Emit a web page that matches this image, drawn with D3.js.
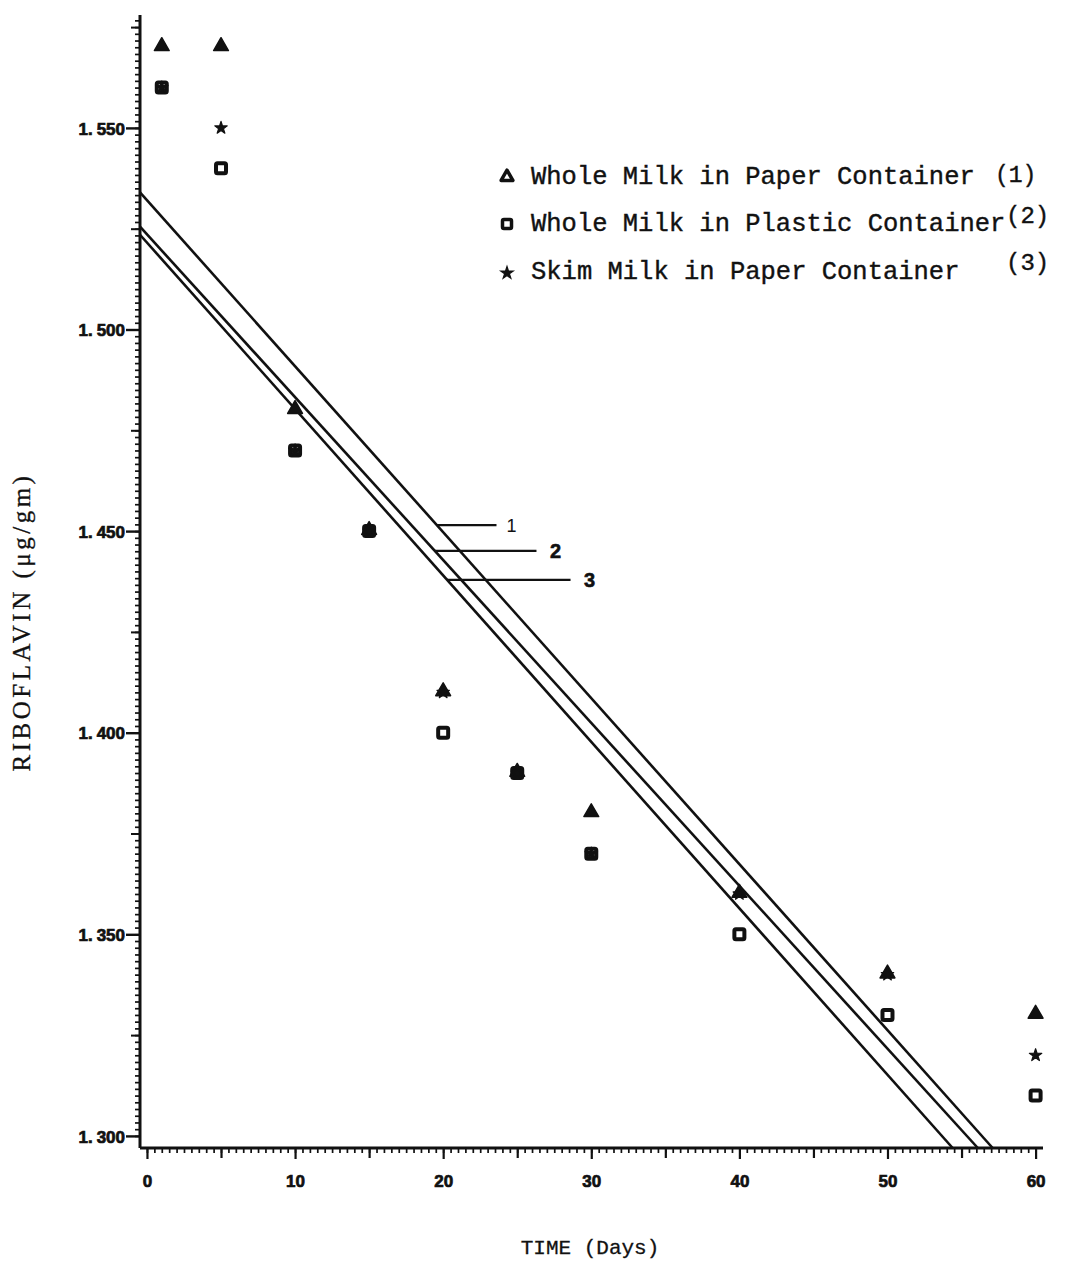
<!DOCTYPE html>
<html>
<head>
<meta charset="utf-8">
<script src="https://cdn.jsdelivr.net/npm/d3@7"></script>
<style>
  html, body { margin: 0; padding: 0; background: #ffffff; }
  svg { display: block; }
</style>
</head>
<body>
<svg id="chart" width="1078" height="1281"></svg>
<script>
// Storage days for every measurement
const days = [1, 5, 10, 15, 20, 25, 30, 40, 50, 60];

// Riboflavin (µg/gm) per series
const wholePaper   = [1.570, 1.570, 1.480, 1.450, 1.410, 1.390, 1.380, 1.360, 1.340, 1.330];
const wholePlastic = [1.560, 1.540, 1.470, 1.450, 1.400, 1.390, 1.370, 1.350, 1.330, 1.310];
const skimPaper    = [1.560, 1.550, 1.470, 1.450, 1.410, 1.390, 1.370, 1.360, 1.340, 1.320];

// Fitted regression lines (1, 2, 3): value where each meets the y axis,
// and the day where each reaches the bottom of the plot
const fitNames       = ["1", "2", "3"];
const fitStartValues = [1.534, 1.5255, 1.5235];
const fitEndDays     = [57.1, 56.1, 54.4];

// Call-out leaders for the fitted lines: level and right-hand end day
const leaderValues  = [1.4515, 1.4451, 1.4379];
const leaderEndDays = [23.6, 26.3, 28.6];

// Axis tick labels
const xTickLabels = [0, 10, 20, 30, 40, 50, 60];
const yTickLabels = [1.300, 1.350, 1.400, 1.450, 1.500, 1.550];

// Legend entries
const legendNames = ["Whole Milk in Paper Container", "Whole Milk in Plastic Container", "Skim Milk in Paper Container"];
const legendTags  = ["(1)", "(2)", "(3)"];

const svg = d3.select("#chart");
const ink = "#111";

const xDomain = [-0.47, 60.5];
const yDomain = [1.297, 1.578];
const x = d3.scaleLinear().domain(xDomain).range([140, 1043]);
const y = d3.scaleLinear().domain(yDomain).range([1148, 15]);

// ---------- axes ----------
const tickFont = "'Liberation Sans', Arial, sans-serif";

// y axis: fine ticks, half-interval ticks and labelled ticks
const yMinor = d3.range(0, 170).map(i => 1.300 + i * 0.05 / 30).filter(v => v <= yDomain[1]);
const yMid = d3.range(1.325, 1.576, 0.05);
svg.append("g").attr("transform", `translate(${x(xDomain[0])},0)`)
  .call(d3.axisLeft(y).tickValues(yMinor).tickSize(5).tickFormat(""))
  .call(g => g.select(".domain").remove())
  .call(g => g.selectAll("line").attr("stroke", ink).attr("stroke-width", 1.7));
svg.append("g").attr("transform", `translate(${x(xDomain[0])},0)`)
  .call(d3.axisLeft(y).tickValues(yMid).tickSize(9).tickFormat(""))
  .call(g => g.select(".domain").remove())
  .call(g => g.selectAll("line").attr("stroke", ink).attr("stroke-width", 2));
const yLab = svg.append("g").attr("transform", `translate(${x(xDomain[0])},0)`)
  .call(d3.axisLeft(y).tickValues(yTickLabels).tickSize(14).tickPadding(2).tickFormat(""))
  .call(g => g.select(".domain").remove())
  .call(g => g.selectAll("line").attr("stroke", ink).attr("stroke-width", 2.4));
// labelled values drawn as "1. 550": integer part, point, then a small gap
yLab.selectAll(".tick").append("text")
  .attr("x", -15).attr("dy", "0.36em")
  .attr("text-anchor", "end")
  .attr("fill", ink).attr("stroke", ink).attr("stroke-width", 0.7)
  .style("font-family", tickFont).style("font-weight", "bold").style("font-size", "17px")
  .each(function(d) {
    const s = d3.format(".3f")(d);
    const t = d3.select(this);
    t.append("tspan").text(s.slice(0, 2));
    t.append("tspan").attr("dx", 4).text(s.slice(2));
  });

// x axis: half-day ticks, five-day ticks and labelled ticks
const xMinor = d3.range(0, 121).map(i => i * 0.5);
const xFive = d3.range(5, 60, 10);
svg.append("g").attr("transform", `translate(0,${y(yDomain[0])})`)
  .call(d3.axisBottom(x).tickValues(xMinor).tickSize(5).tickFormat(""))
  .call(g => g.select(".domain").remove())
  .call(g => g.selectAll("line").attr("stroke", ink).attr("stroke-width", 1.7));
svg.append("g").attr("transform", `translate(0,${y(yDomain[0])})`)
  .call(d3.axisBottom(x).tickValues(xFive).tickSize(10).tickFormat(""))
  .call(g => g.select(".domain").remove())
  .call(g => g.selectAll("line").attr("stroke", ink).attr("stroke-width", 2.2));
svg.append("g").attr("transform", `translate(0,${y(yDomain[0])})`)
  .call(d3.axisBottom(x).tickValues(xTickLabels).tickSize(11).tickPadding(16).tickFormat(d3.format("d")))
  .call(g => g.select(".domain").remove())
  .call(g => g.selectAll("line").attr("stroke", ink).attr("stroke-width", 2.2))
  .call(g => g.selectAll("text").attr("fill", ink).attr("stroke", ink).attr("stroke-width", 0.7)
    .style("font-family", tickFont).style("font-weight", "bold").style("font-size", "17px"));

// axis lines
svg.append("line")
  .attr("x1", x(xDomain[0])).attr("x2", x(xDomain[0]))
  .attr("y1", y(yDomain[1])).attr("y2", y(yDomain[0]))
  .attr("stroke", ink).attr("stroke-width", 3);
svg.append("line")
  .attr("x1", x(xDomain[0])).attr("x2", x(xDomain[1]))
  .attr("y1", y(yDomain[0])).attr("y2", y(yDomain[0]))
  .attr("stroke", ink).attr("stroke-width", 3);

// ---------- fitted lines ----------
const plot = svg.append("g");
fitNames.forEach((name, i) => {
  plot.append("line")
    .attr("x1", x(xDomain[0])).attr("y1", y(fitStartValues[i]))
    .attr("x2", x(fitEndDays[i])).attr("y2", y(yDomain[0]))
    .attr("stroke", ink).attr("stroke-width", 2.6);
});

// leaders from each fitted line to its number
fitNames.forEach((name, i) => {
  const v = leaderValues[i];
  // day at which fitted line i passes the leader's level
  const t = (fitStartValues[i] - v) / (fitStartValues[i] - yDomain[0]);
  const dayOnLine = xDomain[0] + t * (fitEndDays[i] - xDomain[0]);
  plot.append("line")
    .attr("x1", x(dayOnLine)).attr("y1", y(v))
    .attr("x2", x(leaderEndDays[i])).attr("y2", y(v))
    .attr("stroke", ink).attr("stroke-width", 2.2);
  plot.append("text")
    .attr("x", x(leaderEndDays[i]) + (i === 0 ? 15 : 19))
    .attr("y", y(v) + 7)
    .attr("text-anchor", "middle")
    .attr("fill", ink)
    .attr("stroke", ink).attr("stroke-width", i === 0 ? 0 : 0.6)
    .style("font-family", tickFont)
    .style("font-weight", i === 0 ? "normal" : "bold")
    .style("font-size", i === 0 ? "18px" : "20px")
    .text(name);
});

// ---------- markers ----------
const triPath = d3.symbol(d3.symbolTriangle, 95)();
const starPath = d3.symbol(d3.symbolStar, 48)();

const squares = days.map((d, i) => ({ d, v: wholePlastic[i] }));
const triangles = days.map((d, i) => ({ d, v: wholePaper[i] }));
const stars = days.map((d, i) => ({ d, v: skimPaper[i] }));

plot.selectAll(".sq").data(squares).join("rect")
  .attr("x", p => x(p.d) - 5).attr("y", p => y(p.v) - 5)
  .attr("width", 10).attr("height", 10).attr("rx", 1.5)
  .attr("fill", "#fff").attr("stroke", ink).attr("stroke-width", 4);

plot.selectAll(".tri").data(triangles).join("path")
  .attr("d", triPath)
  .attr("transform", p => `translate(${x(p.d)},${y(p.v) - 1})`)
  .attr("fill", ink).attr("stroke", ink).attr("stroke-width", 1.5).attr("stroke-linejoin", "round");

plot.selectAll(".star").data(stars).join("path")
  .attr("d", starPath)
  .attr("transform", p => `translate(${x(p.d)},${y(p.v)})`)
  .attr("fill", ink).attr("stroke", ink).attr("stroke-width", 1.2).attr("stroke-linejoin", "round");

// ---------- legend ----------
const legendFont = "'Liberation Mono', 'DejaVu Sans Mono', monospace";
const legendRows = [184, 231, 279];
const legend = svg.append("g");
legendNames.forEach((name, i) => {
  const cy = legendRows[i] - 7;
  if (i === 0) {
    legend.append("path").attr("d", d3.symbol(d3.symbolTriangle, 60)())
      .attr("transform", `translate(507,${cy})`)
      .attr("fill", "#fff").attr("stroke", ink).attr("stroke-width", 3.5).attr("stroke-linejoin", "round");
  } else if (i === 1) {
    legend.append("rect").attr("x", 502.5).attr("y", cy - 4.5).attr("width", 9).attr("height", 9).attr("rx", 1.5)
      .attr("fill", "#fff").attr("stroke", ink).attr("stroke-width", 3.5);
  } else {
    legend.append("path").attr("d", d3.symbol(d3.symbolStar, 48)())
      .attr("transform", `translate(507,${cy + 1})`)
      .attr("fill", ink).attr("stroke", ink).attr("stroke-width", 1.2);
  }
  const t = legend.append("text")
    .attr("x", 531).attr("y", legendRows[i])
    .attr("fill", ink).attr("stroke", ink).attr("stroke-width", 0.4)
    .style("font-family", legendFont).style("font-size", "25.5px");
  t.append("tspan").text(name);
  if (i === 0) {
    t.append("tspan").attr("x", 995).attr("dy", -2).style("font-size", "23px").text(legendTags[i]);
  } else if (i === 1) {
    t.append("tspan").attr("x", 1006).attr("dy", -8).style("font-size", "24px").text(legendTags[i]);
  } else {
    t.append("tspan").attr("x", 1006).attr("dy", -9).style("font-size", "24px").text(legendTags[i]);
  }
});

// ---------- axis titles ----------
svg.append("text")
  .attr("x", 590).attr("y", 1254)
  .attr("text-anchor", "middle")
  .attr("fill", ink).attr("stroke", ink).attr("stroke-width", 0.3)
  .style("font-family", "'Liberation Mono', monospace")
  .style("font-size", "21px")
  .text("TIME (Days)");

svg.append("text")
  .attr("transform", "translate(30,622) rotate(-90)")
  .attr("text-anchor", "middle")
  .attr("fill", ink).attr("stroke", ink).attr("stroke-width", 0.3)
  .style("font-family", "'Liberation Serif', serif")
  .style("font-size", "25px")
  .style("letter-spacing", "3.5px")
  .text("RIBOFLAVIN (μg/gm)");
</script>
</body>
</html>
